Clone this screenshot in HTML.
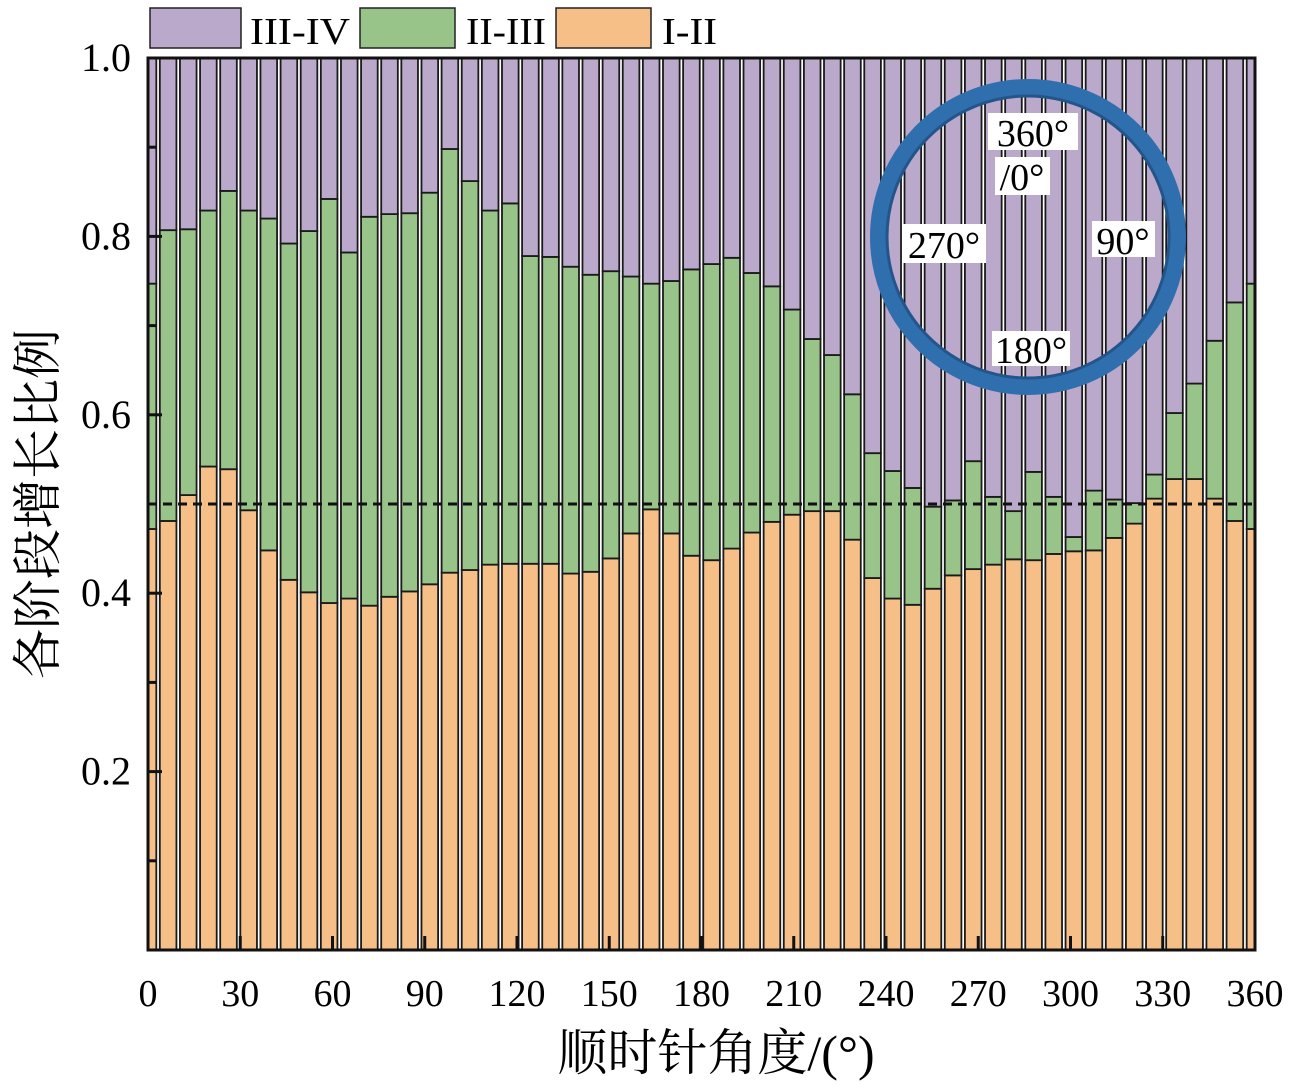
<!DOCTYPE html>
<html><head><meta charset="utf-8"><style>
body{margin:0;background:#fff;}
svg text{font-family:"Liberation Serif","Noto Serif CJK SC",serif;}
</style></head><body>
<svg id="chart" width="1294" height="1086" viewBox="0 0 1294 1086" xmlns="http://www.w3.org/2000/svg">
<defs><clipPath id="plotclip"><rect x="148" y="58" width="1107" height="892"/></clipPath></defs>
<g id="bars" clip-path="url(#plotclip)"></g>
<g id="axes"></g>
<g>
 <rect x="150" y="8" width="91" height="40" fill="#bba9cc" stroke="#222" stroke-width="1.5"/>
 <text x="250" y="44" font-size="38" textLength="100" lengthAdjust="spacingAndGlyphs">III-IV</text>
 <rect x="360" y="8" width="95" height="40" fill="#98c48a" stroke="#222" stroke-width="1.5"/>
 <text x="466" y="44" font-size="38" textLength="80" lengthAdjust="spacingAndGlyphs">II-III</text>
 <rect x="556" y="8" width="95" height="40" fill="#f5bf87" stroke="#222" stroke-width="1.5"/>
 <text x="662" y="44" font-size="38" textLength="55" lengthAdjust="spacingAndGlyphs">I-II</text>
</g>
<g>
 <circle cx="1028" cy="237" r="149" fill="none" stroke="#2f6fae" stroke-width="18"/>
 <circle cx="1028" cy="237" r="141" fill="none" stroke="#24558a" stroke-width="3"/>
 <rect x="988" y="113" width="90" height="37" fill="#fff"/>
 <text x="1033" y="146" font-size="38" text-anchor="middle">360°</text>
 <rect x="995" y="157" width="55" height="38" fill="#fff"/>
 <text x="1022" y="190" font-size="38" text-anchor="middle">/0°</text>
 <rect x="903" y="224" width="83" height="39" fill="#fff"/>
 <text x="944" y="258" font-size="38" text-anchor="middle">270°</text>
 <rect x="1092" y="221" width="63" height="36" fill="#fff"/>
 <text x="1123" y="254" font-size="38" text-anchor="middle">90°</text>
 <rect x="992" y="331" width="78" height="35" fill="#fff"/>
 <text x="1031" y="363" font-size="38" text-anchor="middle">180°</text>
</g>
<text x="716" y="1070" font-size="50" text-anchor="middle">顺时针角度/(°)</text>
<text transform="translate(55,504) rotate(-90)" font-size="50" text-anchor="middle">各阶段增长比例</text>
</svg>
<script>
const angleCount = 56;
const stageI_II = [0.472,0.481,0.510,0.542,0.539,0.493,0.448,0.415,0.401,0.389,0.394,0.386,0.396,0.402,0.410,0.423,0.426,0.432,0.433,0.433,0.433,0.422,0.424,0.439,0.467,0.494,0.467,0.442,0.437,0.450,0.468,0.480,0.488,0.492,0.492,0.460,0.417,0.394,0.387,0.405,0.420,0.427,0.432,0.438,0.437,0.444,0.447,0.448,0.462,0.478,0.506,0.528,0.528,0.506,0.481,0.472];
const stageII_III_top = [0.747,0.807,0.808,0.829,0.851,0.829,0.820,0.792,0.806,0.842,0.782,0.822,0.825,0.826,0.849,0.898,0.862,0.829,0.837,0.778,0.777,0.766,0.757,0.761,0.755,0.747,0.750,0.763,0.769,0.776,0.759,0.744,0.718,0.685,0.667,0.623,0.557,0.537,0.518,0.497,0.504,0.548,0.508,0.492,0.536,0.508,0.463,0.515,0.505,0.501,0.533,0.602,0.635,0.683,0.726,0.747];
const xTicks = [0,30,60,90,120,150,180,210,240,270,300,330,360];
const yTicks = [0.2,0.4,0.6,0.8,1.0];
const yMinor = [0.1,0.3,0.5,0.7,0.9];
const refLine = 0.5;

const L=148,R=1255,T=58,B=950;
const xs = a => L + a/360*(R-L);
const ys = v => B - v*(B-T);
const NS='http://www.w3.org/2000/svg';
function mk(tag, attrs, parent){const e=document.createElementNS(NS,tag);for(const k in attrs)e.setAttribute(k,attrs[k]);parent.appendChild(e);return e;}
const bars=document.getElementById('bars'), axes=document.getElementById('axes');
const step = 360/(angleCount-1);
const bw = (xs(step)-xs(0)) - 3.5;
for(let i=0;i<angleCount;i++){
  const cx = xs(i*step);
  const segs=[[0,stageI_II[i],'#f5bf87','i-ii'],[stageI_II[i],stageII_III_top[i],'#98c48a','ii-iii'],[stageII_III_top[i],1,'#bba9cc','iii-iv']];
  for(const s of segs){
    const r=mk('rect',{x:cx-bw/2,y:ys(s[1]),width:bw,height:ys(s[0])-ys(s[1]),fill:s[2],stroke:'#1a1a1a','stroke-width':1.8},bars);
    
    
  }
}
const dl=mk('line',{x1:L,x2:R,y1:ys(refLine),y2:ys(refLine),stroke:'#111','stroke-width':3,'stroke-dasharray':'9,6'},axes);


const fr=mk('rect',{x:L,y:T,width:R-L,height:B-T,fill:'none',stroke:'#111','stroke-width':3},axes);


for(const t of xTicks){
  const ln=mk('line',{x1:xs(t),x2:xs(t),y1:B,y2:B-14,stroke:'#111','stroke-width':3},axes);
  
  
  const tx=mk('text',{x:xs(t),y:B+56,'font-size':38,'text-anchor':'middle'},axes);
  tx.textContent=t;
  
  
}
for(const t of yTicks){
  const ln=mk('line',{x1:L,x2:L+14,y1:ys(t),y2:ys(t),stroke:'#111','stroke-width':3},axes);
  
  
  const tx=mk('text',{x:L-17,y:ys(t)+13,'font-size':40,'text-anchor':'end'},axes);
  tx.textContent=t.toFixed(1);
  
  
}
for(const t of yMinor){
  const ln=mk('line',{x1:L,x2:L+8,y1:ys(t),y2:ys(t),stroke:'#111','stroke-width':3},axes);
  
  
}
</script>
</body></html>
